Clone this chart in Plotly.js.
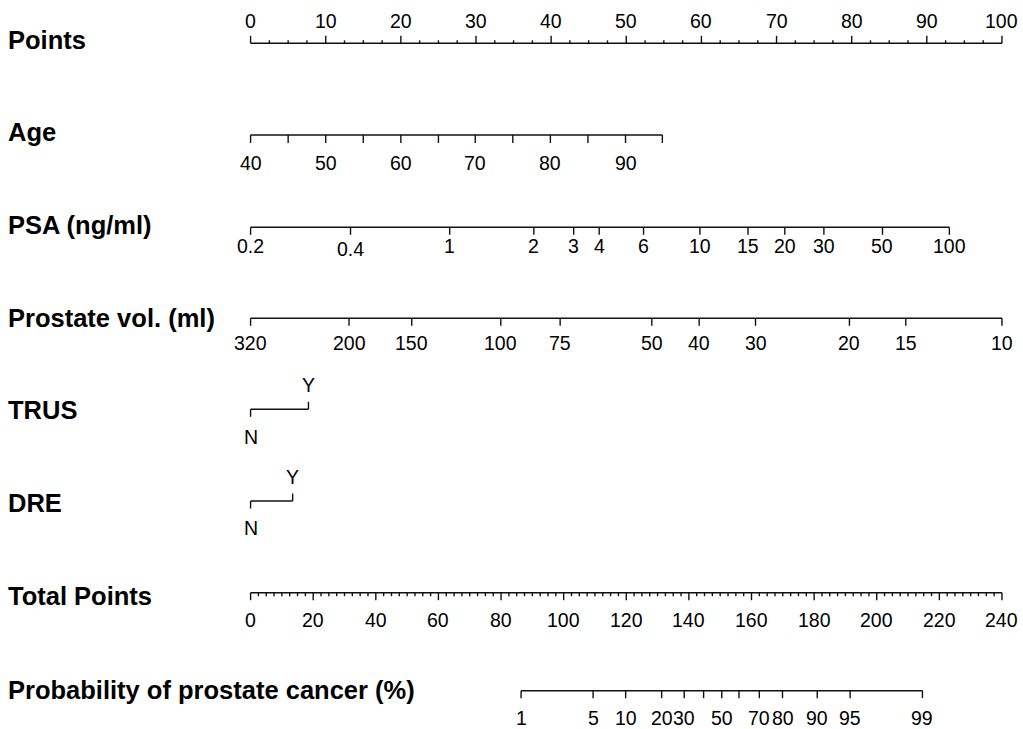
<!DOCTYPE html>
<html>
<head>
<meta charset="utf-8">
<script src="https://cdn.plot.ly/plotly-3.0.1.min.js"></script>
<style>html,body{margin:0;padding:0;background:#fff}</style>
</head>
<body>
<div id="chart" style="width:1023px;height:729px"></div>
<script>
// ---- data ----
const pointsTicks = [0,10,20,30,40,50,60,70,80,90,100];
const ageValues = [40,45,50,55,60,65,70,75,80,85,90,95];
const agePoints = [0,5.0,10.0,15.0,20.0,25.0,29.9,34.9,39.9,44.9,49.9,54.8];
const ageLabels = [40,50,60,70,80,90];
const psaValues = [0.2,0.4,1,2,3,4,6,10,15,20,30,50,100];
const psaPoints = [0,13.3,26.5,37.7,43.0,46.4,52.3,59.8,66.2,71.1,76.3,84.1,93.0];
const volValues = [320,200,150,100,75,50,40,30,20,15,10];
const volPoints = [0,13.1,21.45,33.3,41.2,53.4,59.7,67.2,79.7,87.2,100];
const trusLevels = ["N","Y"];
const trusPoints = [0,7.7];
const dreLevels = ["N","Y"];
const drePoints = [0,5.6];
const totalTicks = [0,20,40,60,80,100,120,140,160,180,200,220,240];
const totalMax = 240;
const probValues = [1,5,10,20,30,40,50,60,70,80,90,95,99];
const probTotals = [86.4,109.4,119.8,131.3,138.5,144.7,150.5,156.0,162.5,169.9,181.0,191.5,214.6];
const probLabels = [1,5,10,20,30,50,70,80,90,95,99];
const rowTitles = ["Points","Age","PSA (ng/ml)","Prostate vol. (ml)","TRUS","DRE","Total Points","Probability of prostate cancer (%)"];

// ---- layout constants (pixel rows) ----
const rowY = [43.3,135,227.3,318.3,409.3,501,592.7,690.7];
const titleY = [40,132,225,318,410,503,596,690];
const MAJ = 7.5, MIN = 3.5;
const LINEC = '#111', LW = 1.4;
const FONT = 'Liberation Sans, Arial, Helvetica, sans-serif';
const traces = [];
const ann = [];

function axisLine(x0, x1, y){
  traces.push({x:[x0,x1], y:[y,y], mode:'lines', line:{color:LINEC,width:LW}, hoverinfo:'skip', showlegend:false});
}
function ticks(xs, y0, y1){
  const x=[], y=[];
  xs.forEach(v=>{ x.push(v,v,null); y.push(y0,y1,null); });
  traces.push({x:x, y:y, mode:'lines', line:{color:LINEC,width:LW}, hoverinfo:'skip', showlegend:false});
}
function label(x, y, text){
  ann.push({x:x, y:y, xref:'x', yref:'y', text:String(text), showarrow:false,
    xanchor:'center', yanchor:'middle', font:{family:FONT, size:19.5, color:'#000'}});
}

// Points row
{
  const y = rowY[0];
  axisLine(0,100,y);
  ticks(pointsTicks, y, y-MAJ);
  const minor=[]; for(let v=2.5; v<100; v+=2.5){ if(v%10!==0) minor.push(v); }
  ticks(minor, y, y-MIN+0.5);
  pointsTicks.forEach(v=>label(v, 20.5, v));
}
// Age
{
  const y=rowY[1];
  axisLine(agePoints[0], agePoints[agePoints.length-1], y);
  ticks(agePoints, y, y+MAJ+0.5);
  ageValues.forEach((v,i)=>{ if(ageLabels.includes(v)) label(agePoints[i], 162.5, v); });
}
// PSA
{
  const y=rowY[2];
  axisLine(psaPoints[0], psaPoints[psaPoints.length-1], y);
  ticks(psaPoints, y, y+MAJ);
  psaValues.forEach((v,i)=>label(psaPoints[i], v===0.4?249:246, v));
}
// Prostate volume
{
  const y=rowY[3];
  axisLine(volPoints[0], volPoints[volPoints.length-1], y);
  ticks(volPoints, y, y+MAJ);
  volValues.forEach((v,i)=>label(volPoints[i], 343, v));
}
// TRUS & DRE
function binaryRow(y, pts, levels, yLab, nLab){
  axisLine(pts[0], pts[1], y);
  ticks([pts[0]], y, y+MAJ);
  ticks([pts[1]], y, y-MAJ);
  label(pts[0], nLab, levels[0]);
  label(pts[1], yLab, levels[1]);
}
binaryRow(rowY[4], trusPoints, trusLevels, 384.5, 436.5);
binaryRow(rowY[5], drePoints, dreLevels, 476.5, 527.5);
// Total points
{
  const y=rowY[6];
  const sc = 100/totalMax;
  axisLine(0, totalMax*sc, y);
  ticks(totalTicks.map(v=>v*sc), y, y+MAJ);
  const minor=[]; for(let v=2.5; v<totalMax; v+=2.5){ if(v%20!==0) minor.push(v*sc); }
  ticks(minor, y, y+MIN);
  totalTicks.forEach(v=>label(v*sc, 620, v));
}
// Probability
{
  const y=rowY[7];
  const sc = 100/totalMax;
  const px = probTotals.map(v=>v*sc);
  axisLine(px[0], px[px.length-1], y);
  ticks(px, y, y+MAJ);
  probValues.forEach((v,i)=>{ if(probLabels.includes(v)) label(px[i], 718, v); });
}
// Row titles
rowTitles.forEach((t,i)=>{
  ann.push({x:6/1023, y:titleY[i], xref:'paper', yref:'y', text:'<b>'+t+'</b>', showarrow:false,
    xanchor:'left', yanchor:'middle', font:{family:FONT, size:25.5, color:'#000'}});
});

const layout = {
  width:1023, height:729,
  margin:{l:0,r:0,t:0,b:0,pad:0},
  paper_bgcolor:'#fff', plot_bgcolor:'#fff',
  xaxis:{range:[-33.35,102.8], visible:false, fixedrange:true},
  yaxis:{range:[729,0], visible:false, fixedrange:true},
  annotations:ann,
  showlegend:false
};
Plotly.newPlot('chart', traces, layout, {staticPlot:true, displayModeBar:false});
</script>
</body>
</html>
